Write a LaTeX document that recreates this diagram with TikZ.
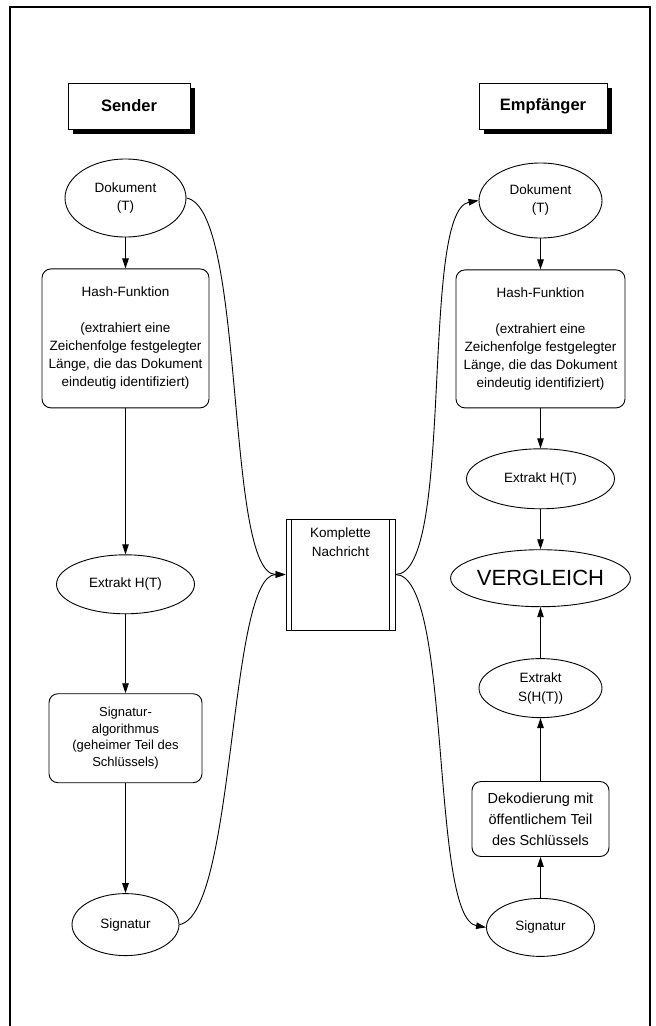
\documentclass[tikz,border=0pt]{standalone}
\usepackage{fontspec}
\setmainfont{Liberation Sans}
\usetikzlibrary{positioning,shapes.geometric,shadows,arrows.meta}

\begin{document}
\begin{tikzpicture}[x=1pt,y=1pt,line width=0.9pt,
    >={Triangle[length=10pt,width=6.5pt]},
    every node/.style={align=center,inner sep=0pt,font=\fontsize{13.5}{18}\selectfont},
    head/.style={draw,fill=white,minimum height=46pt,font=\bfseries\fontsize{16.5}{20}\selectfont,
        drop shadow={shadow xshift=5pt,shadow yshift=-5pt,fill=black,opacity=1}},
    oval/.style={draw,ellipse},
    box/.style={draw,rounded corners=9pt}]
    \useasboundingbox (0,0) rectangle (656,-1026);
    \draw[line width=1.2pt] (10,-1030) -- (10,-7) -- (650,-7) -- (650,-1030);

    % Sender
    \node[head,minimum width=122pt] (sender) at (129,-106) {Sender};
    \node[oval,minimum width=121pt,minimum height=78pt] (docS) at (125.5,-198) {Dokument\\(T)};
    \node[box,minimum width=167pt,minimum height=139pt,below=31pt of docS] (hashS)
        {Hash-Funktion\\[18pt](extrahiert eine\\Zeichenfolge festgelegter\\Länge, die das Dokument\\eindeutig identifiziert)};
    \node[oval,minimum width=138pt,minimum height=59pt,below=146pt of hashS] (extS) {Extrakt H(T)};
    \node[box,minimum width=153pt,minimum height=89pt,below=79pt of extS,
        font=\fontsize{13}{16.5}\selectfont] (algS) {Signatur-\\algorithmus\\(geheimer Teil des\\Schlüssels)};
    \node[oval,minimum width=107pt,minimum height=62pt,below=110pt of algS] (sigS) {Signatur};

    % Empfaenger
    \node[head,minimum width=128pt] (empf) at (543,-106) {Empfänger};
    \node[oval,minimum width=123pt,minimum height=75pt] (docE) at (540.5,-200.5) {Dokument\\(T)};
    \node[box,minimum width=169pt,minimum height=138pt,below=31pt of docE] (hashE)
        {Hash-Funktion\\[18pt](extrahiert eine\\Zeichenfolge festgelegter\\Länge, die das Dokument\\eindeutig identifiziert)};
    \node[oval,minimum width=148pt,minimum height=60pt,below=40pt of hashE] (extE) {Extrakt H(T)};
    \node[oval,minimum width=168pt,minimum height=57pt,below=40pt of extE,
        font=\fontsize{22}{26}\selectfont] (cmp) {VERGLEICH};
    \node[oval,minimum width=123pt,minimum height=59pt,below=51pt of cmp,
        font=\fontsize{13.5}{19}\selectfont] (extSig) {Extrakt\\S(H(T))};
    \node[box,minimum width=137pt,minimum height=75pt,below=63pt of extSig,
        font=\fontsize{14.5}{21}\selectfont] (dec) {Dekodierung mit\\öffentlichem Teil\\des Schlüssels};
    \node[oval,minimum width=108pt,minimum height=58pt,below=41pt of dec] (sigE) {Signatur};

    % Nachricht
    \node[draw,minimum width=109pt,minimum height=111pt] (msg) at (340.5,-574.5) {};
    \draw ([xshift=6pt]msg.north west) -- ([xshift=6pt]msg.south west);
    \draw ([xshift=-6pt]msg.north east) -- ([xshift=-6pt]msg.south east);
    \node[below=9pt of msg.north,font=\fontsize{13.5}{19}\selectfont] (msgtxt) {Komplette\\Nachricht};

    \draw[->] (docS) -- (hashS);
    \draw[->] (hashS) -- (extS);
    \draw[->] (extS) -- (algS);
    \draw[->] (algS) -- (sigS);
    \draw[->] (docE) -- (hashE);
    \draw[->] (hashE) -- (extE);
    \draw[->] (extE) -- (cmp);
    \draw[->] (sigE) -- (dec);
    \draw[->] (dec) -- (extSig);
    \draw[->] (extSig) -- (cmp);
    \draw[->] (docS.east) to[out=-10,in=180,looseness=0.4] (msg.west);
    \draw[->] (sigS.east) to[out=10,in=180,looseness=0.4] (msg.west);
    \draw[->] (msg.east) to[out=0,in=190,looseness=0.4] (docE.west);
    \draw[->] (msg.east) to[out=0,in=170,looseness=0.4] (sigE.west);
\end{tikzpicture}
\end{document}
